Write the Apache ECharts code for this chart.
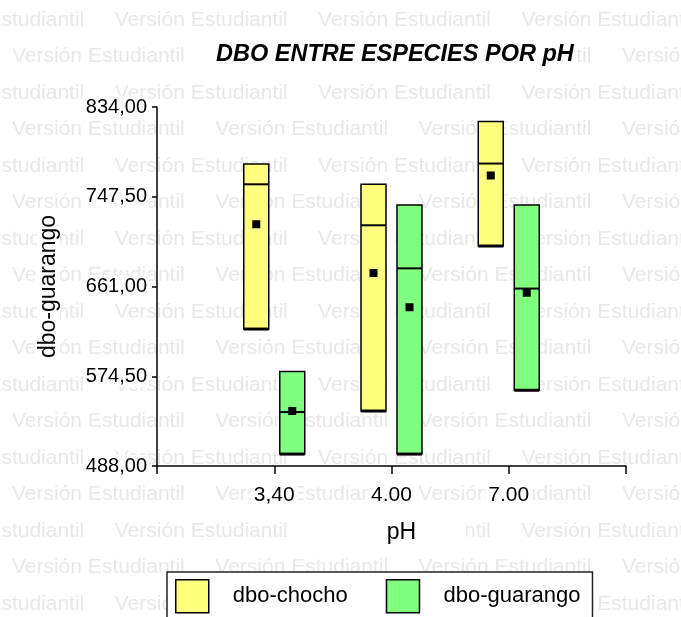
<!DOCTYPE html>
<html><head><meta charset="utf-8">
<script src="https://cdn.jsdelivr.net/npm/echarts@6/dist/echarts.min.js"></script>
<style>html,body{margin:0;padding:0;background:#fff}#c{width:681px;height:617px}</style>
</head><body><div id="c"></div>
<script>
// ---- data ----
const categories = ["3,40", "4.00", "7.00"];
const chochoMax  = [779, 759.5, 820];
const chochoMed  = [759.5, 720, 779.5];
const chochoMean = [721, 674, 768];
const chochoMin  = [620, 541, 700];
const guarangoMax  = [579, 739.5, 739.5];
const guarangoMed  = [540, 678.5, 659];
const guarangoMean = [541, 641, 655];
const guarangoMin  = [499.5, 499.5, 561];
const yMin = 488, yMax = 834, yStep = 86.5;

const FF = '"Liberation Sans", Arial, sans-serif';

function buildData(mx, md, mn, lo) {
  return categories.map((c, i) => [i + 1, mx[i], md[i], mn[i], lo[i]]);
}

function makeRender(offset) {
  return function (params, api) {
    const x = api.value(0);
    const pTop = api.coord([x, api.value(1)]);
    const pMed = api.coord([x, api.value(2)]);
    const pMean = api.coord([x, api.value(3)]);
    const pBot = api.coord([x, api.value(4)]);
    const cx = pTop[0] + offset;
    const w = 25;
    const color = api.visual('color');
    return {
      type: 'group',
      children: [
        { type: 'rect', shape: { x: cx - w / 2, y: pTop[1], width: w, height: pBot[1] - pTop[1] },
          style: { fill: color, stroke: '#000', lineWidth: 1.5 } },
        { type: 'line', shape: { x1: cx - w / 2, y1: pBot[1], x2: cx + w / 2, y2: pBot[1] },
          style: { stroke: '#000', lineWidth: 3 } },
        { type: 'line', shape: { x1: cx - w / 2, y1: pMed[1], x2: cx + w / 2, y2: pMed[1] },
          style: { stroke: '#000', lineWidth: 2 } },
        { type: 'rect', shape: { x: cx - 4, y: pMean[1] - 4, width: 8, height: 8 },
          style: { fill: '#000' } }
      ]
    };
  };
}

// watermark (decoration)
const wm = [];
for (let r = 0; r < 17; r++) {
  const y = 20 + r * 36.5;
  const start = (r % 2 === 0) ? -88.5 : 12;
  for (let k = 0; k < 5; k++) {
    wm.push({
      type: 'text', x: start + k * 203.3, y: y, z: -10, silent: true,
      style: { text: 'Versión Estudiantil', fill: '#e8e8e8', fontSize: 21, fontFamily: FF, verticalAlign: 'middle' }
    });
  }
}

const chart = echarts.init(document.getElementById('c'));
chart.setOption({
  animation: false,
  backgroundColor: '#fff',
  graphic: { elements: wm },
  title: {
    text: 'DBO ENTRE ESPECIES POR pH',
    left: 213, top: 41, padding: [2, 3, 2, 3],
    backgroundColor: '#fff',
    textStyle: { fontFamily: FF, fontSize: 23.5, fontWeight: 'bold', fontStyle: 'italic', color: '#000' }
  },
  legend: {
    left: 167, top: 572,
    itemWidth: 33, itemHeight: 33, itemGap: 38,
    padding: [7, 12, 7, 8],
    borderColor: '#222', borderWidth: 1.5, backgroundColor: '#fff',
    icon: 'rect',
    textStyle: { fontFamily: FF, fontSize: 22, color: '#000', padding: [0, 0, 0, 19] },
    data: [
      { name: 'dbo-chocho', itemStyle: { color: '#ffff80', borderColor: '#000', borderWidth: 1.5 } },
      { name: 'dbo-guarango', itemStyle: { color: '#80ff80', borderColor: '#000', borderWidth: 1.5 } }
    ]
  },
  grid: { left: 157, right: 55, top: 107, bottom: 151 },
  xAxis: {
    type: 'value', min: 0, max: categories.length + 1, interval: 1,
    name: 'pH', nameLocation: 'middle', nameGap: 52,
    nameTextStyle: { fontFamily: FF, fontSize: 23, color: '#000', backgroundColor: '#fff', padding: [3, 50, 3, 70] },
    axisLine: { show: true, lineStyle: { color: '#000', width: 1.5 } },
    axisTick: { show: true, length: 8, lineStyle: { color: '#000', width: 1.5 } },
    splitLine: { show: false },
    axisLabel: {
      margin: 18, fontFamily: FF, fontSize: 21, color: '#000', backgroundColor: '#fff', padding: [1, 3],
      formatter: v => categories[v - 1] || ''
    }
  },
  yAxis: {
    type: 'value', min: yMin, max: yMax, interval: yStep,
    name: 'dbo-guarango', nameLocation: 'middle', nameGap: 97, nameRotate: 90,
    nameTextStyle: { fontFamily: FF, fontSize: 23, color: '#000', backgroundColor: '#fff', padding: [0, 3] },
    axisLine: { show: true, lineStyle: { color: '#000', width: 1.5 } },
    axisTick: { show: true, length: 5, lineStyle: { color: '#000', width: 1.5 } },
    splitLine: { show: false },
    axisLabel: {
      margin: 8, fontFamily: FF, fontSize: 20, color: '#000', backgroundColor: '#fff', padding: [1, 2],
      formatter: v => v.toFixed(2).replace('.', ',')
    }
  },
  series: [
    { name: 'dbo-chocho', type: 'custom', renderItem: makeRender(-18), clip: false,
      itemStyle: { color: '#ffff80' }, encode: { x: 0, y: [1, 2, 3, 4] },
      data: buildData(chochoMax, chochoMed, chochoMean, chochoMin) },
    { name: 'dbo-guarango', type: 'custom', renderItem: makeRender(18), clip: false,
      itemStyle: { color: '#80ff80' }, encode: { x: 0, y: [1, 2, 3, 4] },
      data: buildData(guarangoMax, guarangoMed, guarangoMean, guarangoMin) }
  ]
});
</script></body></html>
